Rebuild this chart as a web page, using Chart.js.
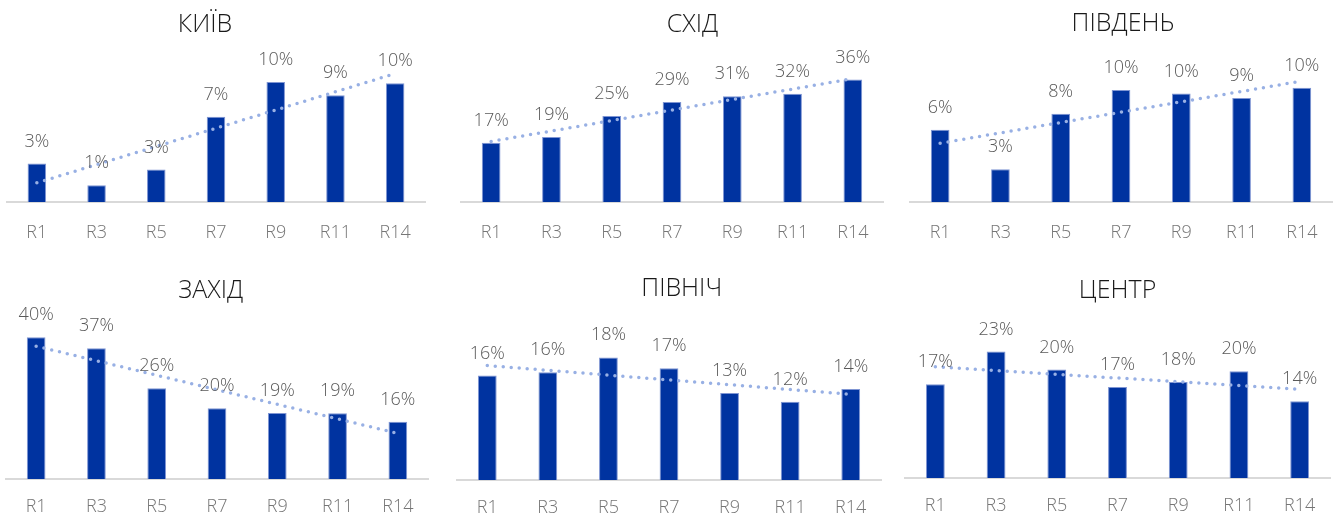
<!DOCTYPE html>
<html><head><meta charset="utf-8">
<script src="https://cdn.jsdelivr.net/npm/chart.js@4.4.1/dist/chart.umd.min.js"></script>
<style>
html,body{margin:0;padding:0;overflow:hidden;background:#fff;width:1341px;height:519px;position:relative}
canvas{position:absolute}
</style></head><body>
<canvas id="c0"></canvas><canvas id="c1"></canvas><canvas id="c2"></canvas>
<canvas id="c3"></canvas><canvas id="c4"></canvas><canvas id="c5"></canvas>
<script>
// ---- data ----
const categories = ['R1','R3','R5','R7','R9','R11','R14'];
const regionNames = ['КИЇВ','СХІД','ПІВДЕНЬ','ЗАХІД','ПІВНІЧ','ЦЕНТР'];
const kyiv    = [3.2, 1.4, 2.7, 7.1, 10.0, 8.9, 9.9];
const skhid   = [17.4, 19.1, 25.3, 29.4, 31.1, 31.8, 36.0];
const pivden  = [6.4, 2.9, 7.8, 9.9, 9.6, 9.2, 10.1];
const zakhid  = [40.1, 37.0, 25.7, 20.0, 18.7, 18.6, 16.2];
const pivnich = [15.6, 16.1, 18.3, 16.7, 13.0, 11.7, 13.6];
const tsentr  = [17.2, 23.2, 19.9, 16.7, 17.6, 19.6, 14.1];
// trendline end values (read at R1 and R14)
const trendStart = [1.6, 17.8, 5.2, 37.6, 17.1, 20.4];
const trendEnd   = [10.7, 36.3, 10.7, 12.9, 12.8, 16.3];
const seriesList = [kyiv, skhid, pivden, zakhid, pivnich, tsentr];

// ---- layout (positions / sizes) ----
const panels = [
  {left:0,   top:0,   width:447, height:264, plotL:7,   plotR:425,  plotT:50,  base:202, yMax:12.67, titleX:205,    titleY:25,  tickPad:20},
  {left:447, top:0,   width:447, height:264, plotL:461, plotR:883,  plotT:50,  base:202, yMax:44.7,  titleX:692.5,  titleY:25,  tickPad:20},
  {left:894, top:0,   width:447, height:264, plotL:910, plotR:1332, plotT:50,  base:202, yMax:13.45, titleX:1123,   titleY:24,  tickPad:20},
  {left:0,   top:260, width:447, height:276, plotL:6,   plotR:428,  plotT:320, base:479, yMax:45.0,  titleX:210.8,  titleY:291, tickPad:17},
  {left:447, top:260, width:447, height:276, plotL:457, plotR:881,  plotT:320, base:480, yMax:23.9,  titleX:681.7,  titleY:289, tickPad:17},
  {left:894, top:260, width:447, height:276, plotL:905, plotR:1330, plotT:320, base:478, yMax:29.0,  titleX:1117.5, titleY:291, tickPad:17}
];

const BAR = '#0033A0', BAR_EDGE = '#7F95D3', TREND = '#98B0E4';
const FAMILY = '"Open Sans", "Noto Sans", sans-serif';

const valueLabels = {
  id: 'valueLabels',
  afterDatasetsDraw(chart) {
    const ctx = chart.ctx;
    const meta = chart.getDatasetMeta(0);
    const vals = chart.data.datasets[0].data;
    ctx.save();
    ctx.font = '300 18px ' + FAMILY;
    ctx.fillStyle = '#595959';
    ctx.textAlign = 'center';
    ctx.textBaseline = 'alphabetic';
    meta.data.forEach((bar, i) => {
      ctx.fillText(Math.round(vals[i]) + '%', bar.x, bar.y - 17);
    });
    ctx.restore();
  }
};

const panelTitle = {
  id: 'panelTitle',
  afterDraw(chart, args, opts) {
    const ctx = chart.ctx;
    ctx.save();
    ctx.font = '300 25px ' + FAMILY;
    ctx.fillStyle = '#1a1a1a';
    ctx.textAlign = 'center';
    ctx.textBaseline = 'middle';
    ctx.fillText(opts.text, opts.x, opts.y);
    ctx.restore();
  }
};

panels.forEach((p, k) => {
  const cv = document.getElementById('c' + k);
  cv.width = p.width; cv.height = p.height;
  cv.style.left = p.left + 'px'; cv.style.top = p.top + 'px';
  const lineH = 18 * 1.2;
  const axisH = lineH + 2 * p.tickPad;
  const padBottom = p.height - (p.base - p.top) - axisH;
  const vals = seriesList[k];
  const trend = categories.map((c, i) => i === 0 ? trendStart[k] : (i === categories.length - 1 ? trendEnd[k] : null));
  new Chart(cv, {
    type: 'bar',
    data: {
      labels: categories,
      datasets: [
        {type:'bar', data: vals, backgroundColor: BAR, borderColor: BAR_EDGE, borderWidth: 1, borderSkipped: 'bottom',
         barPercentage: 0.31, categoryPercentage: 1, order: 1},
        {type:'line', data: trend, spanGaps: true, borderColor: TREND, borderWidth: 3.5, borderDash: [0, 8],
         borderCapStyle: 'round', pointRadius: 0, tension: 0, fill: false, order: 0}
      ]
    },
    options: {
      responsive: false, animation: false, devicePixelRatio: 1,
      layout: {padding: {left: p.plotL - p.left, right: p.left + p.width - p.plotR, top: p.plotT - p.top, bottom: padBottom}},
      plugins: {
        legend: {display: false}, tooltip: {enabled: false}, title: {display: false},
        panelTitle: {text: regionNames[k], x: p.titleX - p.left, y: p.titleY - p.top}
      },
      scales: {
        x: {
          grid: {display: false, drawTicks: false},
          border: {display: true, color: '#D9D9D9', width: 2},
          ticks: {color: '#767676', padding: p.tickPad, font: {family: FAMILY, size: 18, weight: '300'}}
        },
        y: {display: false, min: 0, max: p.yMax}
      }
    },
    plugins: [valueLabels, panelTitle]
  });
});
</script>
</body></html>
